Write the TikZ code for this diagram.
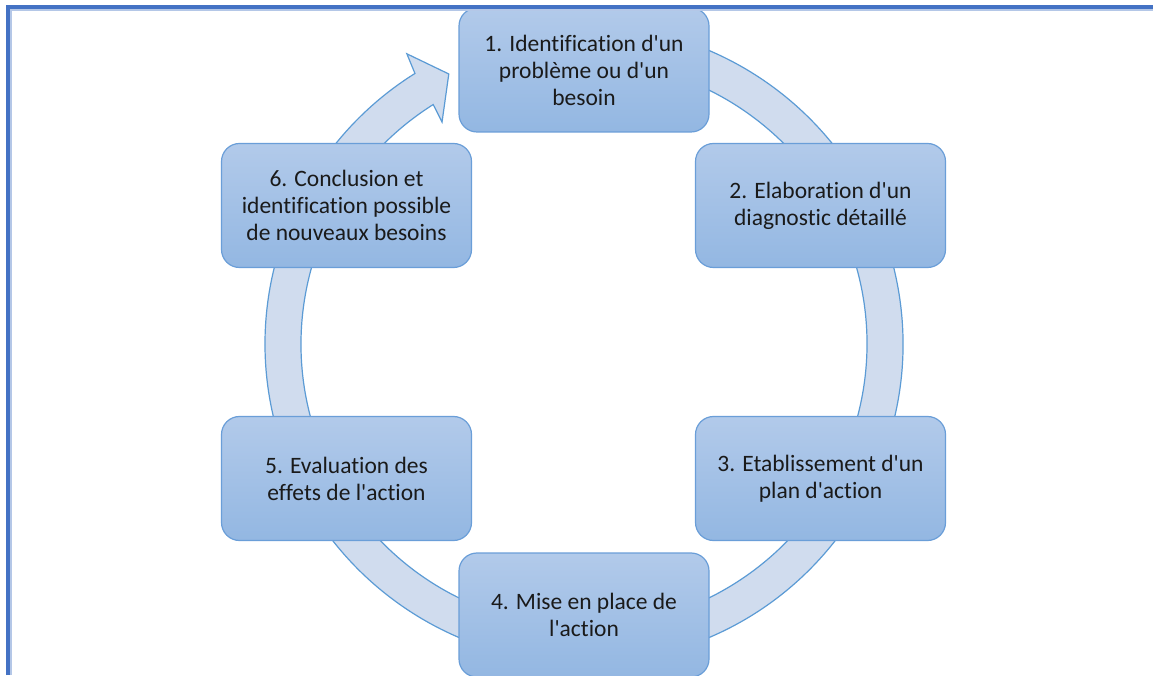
\documentclass[tikz,border=0pt]{standalone}
\usepackage{fontspec}
\setmainfont{Carlito}[Ligatures={TeXOff,NoCommon,NoContextual}]
\definecolor{framecol}{HTML}{4472C4}
\definecolor{framelight}{HTML}{B4C7E7}
\definecolor{ringfill}{HTML}{D0DCEE}
\definecolor{ringline}{HTML}{5B9BD5}
\definecolor{boxtop}{HTML}{B2CAEA}
\definecolor{boxbot}{HTML}{93B7E2}
\definecolor{boxline}{HTML}{6A9ED8}
\definecolor{txt}{HTML}{1A1A1A}
\begin{document}
\begin{tikzpicture}[x=1pt,y=1pt,
  stagebox/.style={draw=boxline, line width=1.2pt, rounded corners=18pt,
    top color=boxtop, bottom color=boxbot, minimum width=250pt, minimum height=124pt,
    inner sep=0pt, align=center, text=txt, font=\fontsize{23.5}{27}\selectfont},
  ringstyle/.style={draw=ringline, fill=ringfill, line width=1.2pt, line join=miter}]
\useasboundingbox (0,0) rectangle (1153,675);
\clip (0,0) rectangle (1153,675);
\fill[white] (0,0) rectangle (1153,675);
% circular arrow
\begin{scope}[shift={(584,331)}]
\draw[ringstyle] (100:319) arc[start angle=100, end angle=-238, radius=319]
  -- (-238.6:340) -- (-243.4:302) -- (-237.4:263.5) -- (-237.8:283)
  arc[start angle=-237.8, end angle=100, radius=283] -- cycle;
\end{scope}
% stages
\node[stagebox] (s1) at (584,605) {1. Identification d'un\\problème ou d'un\\besoin};
\node[stagebox] (s2) at (820.5,469.5) {2. Elaboration d'un\\diagnostic détaillé};
\node[stagebox] (s3) at (820.5,196.5) {3. Etablissement d'un\\plan d'action};
\node[stagebox] (s4) at (584,60) {4. Mise en place de\\l'action};
\node[stagebox] (s5) at (346.5,196.5) {5. Evaluation des\\effets de l'action};
\node[stagebox] (s6) at (346.5,469.5) {6. Conclusion et\\identification possible\\de nouveaux besoins};
% frame
\draw[framelight, line width=1.5pt] (11,0) -- (11,665) -- (1153,665);
\draw[framecol, line width=4pt] (8,0) -- (8,668) -- (1153,668);
\end{tikzpicture}
\end{document}
